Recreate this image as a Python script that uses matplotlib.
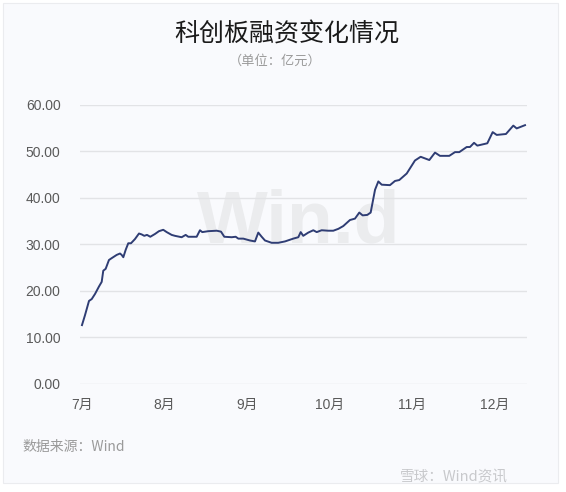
import matplotlib.pyplot as plt
from matplotlib.patches import Rectangle

plt.rcParams['font.family'] = ['Liberation Sans', 'Noto Sans CJK SC', 'DejaVu Sans']

TITLE = "科创板融资变化情况"
SUBTITLE = "（单位：亿元）"
SOURCE = "数据来源：Wind"
BRAND = "雪球：Wind资讯"

MONTH_LABELS = ["7月", "8月", "9月", "10月", "11月", "12月"]
Y_TICKS = [0, 10, 20, 30, 40, 50, 60]

# position in months since the 7月 tick, and balance (亿元)
month_pos = [
    0.0, 0.036, 0.085, 0.118, 0.158, 0.206, 0.239, 0.258, 0.287, 0.327,
    0.360, 0.421, 0.461, 0.481, 0.501, 0.530, 0.561, 0.594, 0.642, 0.691,
    0.724, 0.755, 0.788, 0.828, 0.885, 0.933, 0.985, 1.027, 1.087, 1.127,
    1.208, 1.257, 1.288, 1.390, 1.430, 1.458, 1.531, 1.633, 1.685, 1.725,
    1.815, 1.863, 1.895, 1.955, 2.036, 2.097, 2.137, 2.178, 2.218, 2.299,
    2.379, 2.461, 2.561, 2.622, 2.651, 2.682, 2.743, 2.804, 2.845, 2.905,
    2.985, 3.046, 3.107, 3.167, 3.248, 3.309, 3.361, 3.402, 3.458, 3.499,
    3.552, 3.592, 3.633, 3.733, 3.794, 3.846, 3.936, 4.036, 4.105, 4.210,
    4.279, 4.339, 4.452, 4.521, 4.573, 4.663, 4.703, 4.752, 4.792, 4.913,
    4.978, 5.027, 5.139, 5.228, 5.269, 5.370,
]
balance = [
    12.6, 14.7, 17.8, 18.2, 19.3, 20.9, 21.9, 24.3, 24.7, 26.6,
    27.0, 27.7, 28.0, 27.7, 27.2, 28.8, 30.2, 30.2, 31.1, 32.3,
    32.1, 31.8, 32.0, 31.6, 32.2, 32.8, 33.1, 32.6, 32.0, 31.8,
    31.5, 32.0, 31.6, 31.6, 33.0, 32.6, 32.8, 32.9, 32.7, 31.6,
    31.5, 31.6, 31.2, 31.2, 30.8, 30.6, 32.5, 31.6, 30.8, 30.3,
    30.3, 30.6, 31.2, 31.5, 32.6, 31.8, 32.5, 33.0, 32.6, 33.0,
    32.9, 32.9, 33.3, 33.9, 35.2, 35.5, 36.8, 36.2, 36.3, 36.8,
    41.7, 43.5, 42.8, 42.7, 43.6, 43.8, 45.2, 48.0, 48.8, 48.1,
    49.7, 49.0, 49.0, 49.8, 49.8, 50.9, 50.9, 51.8, 51.2, 51.7,
    54.1, 53.5, 53.7, 55.5, 54.9, 55.6,
]

LINE_COLOR = "#2f3d74"
CARD_COLOR = "#f9fafd"
GRID_COLOR = "#e2e3e6"
TICK_COLOR = "#5a5a5a"

W, H = 566, 492
fig = plt.figure(figsize=(W / 100, H / 100), dpi=100, facecolor="white")

# card background, kept under the axes
fig.patches.append(Rectangle((3 / W, 9 / H), 555 / W, 480 / H,
                             transform=fig.transFigure, facecolor=CARD_COLOR,
                             edgecolor="#ebecef", linewidth=0.8, zorder=-5))

ax = fig.add_axes([80 / W, (H - 383.7) / H, 447 / W, 279 / H])
ax.set_facecolor("none")
ax.plot(month_pos, balance, color=LINE_COLOR, lw=1.4,
        solid_joinstyle="round", zorder=3)

ax.set_xlim(-0.024, 5.394)
ax.set_ylim(0, 60)
ax.set_xticks(range(len(MONTH_LABELS)))
ax.set_xticklabels(MONTH_LABELS)
ax.set_yticks(Y_TICKS)
ax.set_yticklabels([f"{v:.2f}" for v in Y_TICKS])
ax.tick_params(axis="both", length=0, labelsize=10, labelcolor=TICK_COLOR)
ax.tick_params(axis="y", pad=14)
ax.tick_params(axis="x", pad=10)
ax.set_axisbelow(True)
ax.grid(axis="y", color=GRID_COLOR, lw=1.0)
for spine in ax.spines.values():
    spine.set_visible(False)

# faint brand watermark behind the line
ax.text(0.49, 0.575, "Win.d", transform=ax.transAxes, ha="center",
        va="center", fontsize=54, fontweight="bold", color="#ebecee",
        zorder=0.1)

fig.text(287 / W, 1 - 35 / H, TITLE, ha="center", va="center",
         fontsize=18, family=["Noto Sans CJK SC"], color="#1a1a1a")
fig.text(275 / W, 1 - 61 / H, SUBTITLE, ha="center", va="center",
         fontsize=9.5, family=["Noto Sans CJK SC"], color="#9a9a9a")
fig.text(22 / W, 1 - 447 / H, SOURCE, ha="left", va="center",
         fontsize=10, family=["Noto Sans CJK SC", "DejaVu Sans"],
         color="#9a9a9a")
fig.text(508 / W, 1 - 477 / H, BRAND, ha="right", va="center",
         fontsize=10.5, family=["Noto Sans CJK SC", "DejaVu Sans"],
         color="#c8c9cc")

fig.savefig("out.png", dpi=100, facecolor="white")
